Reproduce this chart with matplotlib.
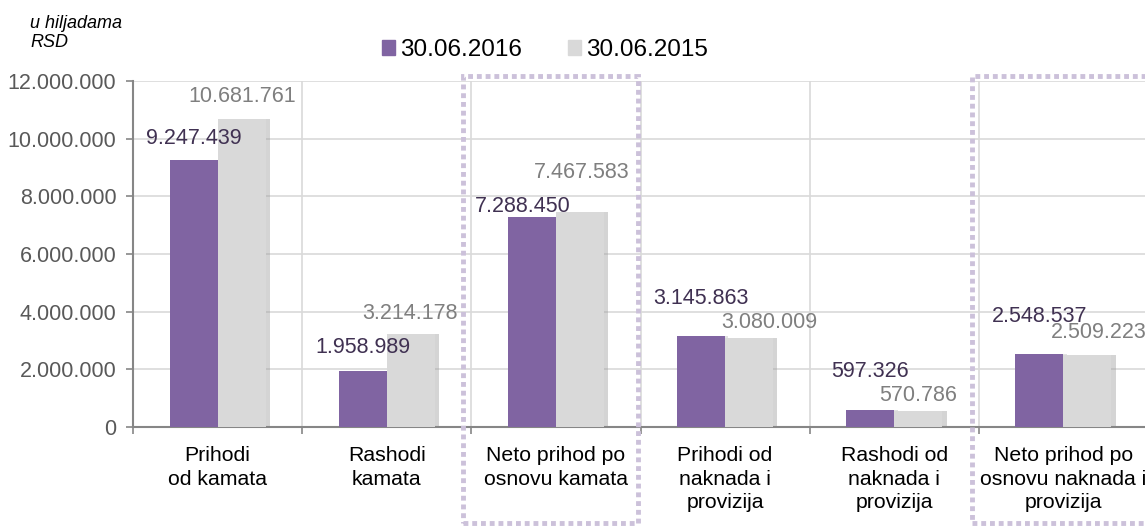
import numpy as np
import matplotlib
matplotlib.use('Agg')
import matplotlib.pyplot as plt
from matplotlib.patches import Patch, Rectangle
from matplotlib.ticker import FuncFormatter

plt.rcParams['font.family'] = ['Liberation Sans', 'DejaVu Sans']

# data
categories = ['Prihodi\nod kamata', 'Rashodi\nkamata', 'Neto prihod po\nosnovu kamata',
              'Prihodi od\nnaknada i\nprovizija', 'Rashodi od\nnaknada i\nprovizija',
              'Neto prihod po\nosnovu naknada i\nprovizija']
series_names = ['30.06.2016', '30.06.2015']
values_2016 = [9247439, 1958989, 7288450, 3145863, 597326, 2548537]
values_2015 = [10681761, 3214178, 7467583, 3080009, 570786, 2509223]
yticks = [0, 2000000, 4000000, 6000000, 8000000, 10000000, 12000000]

# label offsets in pixels (dx from bar center, dy above bar top), as placed in the original
off_2016 = [(0, 22), (0, 23), (-9, 10), (0, 38), (0, 38), (0, 37)]
off_2015 = [(1, 23), (-1, 21), (2, 39), (20, 16), (0, 15), (11, 22)]

purple = '#8064A2'
lightgray = '#D9D9D9'

def dots(v, pos=None):
    return '{:,.0f}'.format(v).replace(',', '.')

W, H = 1145, 529
fig = plt.figure(figsize=(W / 100, H / 100), dpi=100)
ax = fig.add_axes([133 / W, 1 - 427 / H, 1015 / W, (427 - 81) / H])

x = np.arange(len(categories))
bw = 0.284
# soft shadows
ax.bar(x - bw / 2 + 0.02, values_2016, bw, color='#b0b0b0', alpha=0.35, zorder=2)
ax.bar(x + bw / 2 + 0.025, values_2015, bw, color='#a0a0a0', alpha=0.45, zorder=2)
ax.bar(x - bw / 2, values_2016, bw, color=purple, zorder=3)
ax.bar(x + bw / 2, values_2015, bw, color=lightgray, zorder=3)

for i in range(len(categories)):
    dx, dy = off_2016[i]
    ax.annotate(dots(values_2016[i]), (x[i] - bw / 2, values_2016[i]),
                xytext=(dx * 0.72, dy * 0.72), textcoords='offset points',
                ha='center', va='center', fontsize=15.5, color='#403152', zorder=5)
    dx, dy = off_2015[i]
    ax.annotate(dots(values_2015[i]), (x[i] + bw / 2, values_2015[i]),
                xytext=(dx * 0.72, dy * 0.72), textcoords='offset points',
                ha='center', va='center', fontsize=15.5, color='#7F7F7F', zorder=5)

ax.set_xlim(-0.5, len(categories) - 0.5)
ax.set_ylim(0, 12000000)
ax.set_yticks(yticks)
ax.yaxis.set_major_formatter(FuncFormatter(dots))
ax.set_xticks(x)
ax.set_xticklabels(categories, fontsize=15.3, linespacing=1.32)
ax.tick_params(axis='x', length=0, pad=13.5)
ax.set_xticks(np.arange(len(categories) + 1) - 0.5, minor=True)
ax.tick_params(axis='x', which='minor', length=5, color='#868686', width=1.2)
ax.tick_params(axis='y', length=5, color='#868686', width=1.2, labelsize=15.5,
               labelcolor='#595959', pad=7)

ax.grid(axis='y', color='#D9D9D9', linewidth=1.2, zorder=0)
ax.grid(axis='x', which='minor', color='#D9D9D9', linewidth=1.2, zorder=0)
ax.set_axisbelow(True)
for s in ['top', 'right']:
    ax.spines[s].set_visible(False)
ax.spines['left'].set_color('#868686')
ax.spines['left'].set_linewidth(1.5)
ax.spines['bottom'].set_color('#868686')
ax.spines['bottom'].set_linewidth(1.5)

# dotted highlight boxes
for (x0, x1) in [(463, 638), (972, 1160)]:
    fig.patches.append(Rectangle((x0 / W, 1 - 523 / H), (x1 - x0) / W, (523 - 76) / H,
                                 transform=fig.transFigure, fill=False,
                                 edgecolor='#CCC1DA', linewidth=3.5,
                                 linestyle=(0, (1, 0.8)), zorder=10))

fig.legend(handles=[Patch(color=purple), Patch(color=lightgray)], labels=series_names,
           loc='center', bbox_to_anchor=(545 / W, 1 - 50 / H), ncol=2, frameon=False,
           fontsize=17.5, handlelength=0.55, handleheight=0.55, handletextpad=0.2,
           columnspacing=1.9, borderpad=0)

fig.text(30 / W, 1 - 33 / H, 'u hiljadama\nRSD', fontsize=13, style='italic',
         ha='left', va='center', linespacing=1.1)

fig.savefig('out.png', dpi=100)
